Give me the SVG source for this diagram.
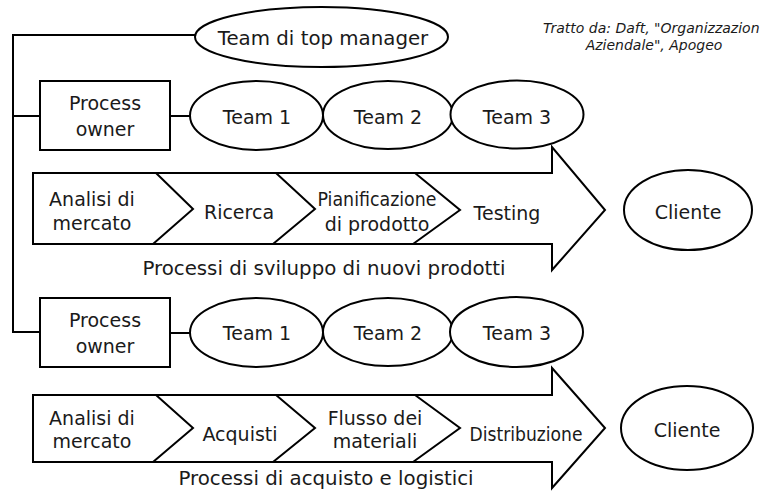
<svg xmlns="http://www.w3.org/2000/svg" width="761" height="492" viewBox="0 0 761 492">
  <style>
    .shape { fill: #ffffff; stroke: #000000; stroke-width: 2; }
    .line { fill: none; stroke: #000000; stroke-width: 2; }
    .chev { fill: none; stroke: #000000; stroke-width: 2; stroke-linejoin: miter; }
    .lbl { font-family: "DejaVu Sans", Verdana, sans-serif; font-size: 19px; fill: #1a1a1a; text-anchor: middle; }
    .big { font-size: 19.8px; }
    .note { font-family: "DejaVu Sans", Verdana, sans-serif; font-size: 14px; font-style: italic; fill: #1a1a1a; }
  </style>
  <rect x="0" y="0" width="761" height="492" fill="#ffffff"/>

  <!-- connectors: vertical spine and horizontal links -->
  <g id="connectors">
    <polyline class="line" points="195,35 13,35 13,332 40,332"/>
    <line class="line" x1="13" y1="116" x2="40" y2="116"/>
    <line class="line" x1="170" y1="116" x2="190" y2="116"/>
    <line class="line" x1="170" y1="333" x2="190" y2="333"/>
  </g>

  <g id="top-manager">
    <ellipse class="shape" cx="321.5" cy="37" rx="126.5" ry="30"/>
    <text class="lbl big" x="323" y="45">Team di top manager</text>
  </g>

  <g id="source-note">
    <text class="note" x="543" y="33">Tratto da: Daft, "Organizzazion</text>
    <text class="note" x="654" y="50" text-anchor="middle">Aziendale", Apogeo</text>
  </g>

  <!-- row 1: new product development -->
  <g id="process-owner-1">
    <rect class="shape" x="40" y="81" width="130" height="69"/>
    <text class="lbl" x="105" y="110">Process</text>
    <text class="lbl" x="105" y="136">owner</text>
  </g>
  <g id="team-1a">
    <ellipse class="shape" cx="256.5" cy="115.5" rx="66.5" ry="34.5"/>
    <text class="lbl" x="257" y="124">Team 1</text>
  </g>
  <g id="team-2a">
    <ellipse class="shape" cx="388" cy="115" rx="65" ry="34"/>
    <text class="lbl" x="388" y="124">Team 2</text>
  </g>
  <g id="team-3a">
    <ellipse class="shape" cx="517" cy="114.5" rx="66.5" ry="34"/>
    <text class="lbl" x="517" y="124">Team 3</text>
  </g>

  <g id="process-arrow-1">
    <polygon class="shape" points="33,173 552,173 552,147 605,210 552,270 552,244 33,244"/>
    <polyline class="chev" points="156,173 193,209 153,244"/>
    <polyline class="chev" points="276,173 315,209 273,244"/>
    <polyline class="chev" points="415,173 460,210 413,244"/>
    <text class="lbl" x="92" y="206">Analisi di</text>
    <text class="lbl" x="92" y="230">mercato</text>
    <text class="lbl" x="239" y="219">Ricerca</text>
    <text class="lbl" x="377" y="206" textLength="119" lengthAdjust="spacingAndGlyphs">Pianificazione</text>
    <text class="lbl" x="377" y="231">di prodotto</text>
    <text class="lbl" x="507" y="220">Testing</text>
  </g>
  <g id="cliente-1">
    <ellipse class="shape" cx="688" cy="210" rx="64" ry="40"/>
    <text class="lbl" x="688" y="219">Cliente</text>
  </g>
  <g id="caption-1">
    <text class="lbl big" x="324" y="275">Processi di sviluppo di nuovi prodotti</text>
  </g>

  <!-- row 2: purchasing and logistics -->
  <g id="process-owner-2">
    <rect class="shape" x="40" y="298" width="130" height="69"/>
    <text class="lbl" x="105" y="327">Process</text>
    <text class="lbl" x="105" y="353">owner</text>
  </g>
  <g id="team-1b">
    <ellipse class="shape" cx="256.5" cy="332.5" rx="66.5" ry="34.5"/>
    <text class="lbl" x="257" y="340">Team 1</text>
  </g>
  <g id="team-2b">
    <ellipse class="shape" cx="388" cy="332" rx="65" ry="34"/>
    <text class="lbl" x="388" y="340">Team 2</text>
  </g>
  <g id="team-3b">
    <ellipse class="shape" cx="516.5" cy="332" rx="66.5" ry="35"/>
    <text class="lbl" x="517" y="340">Team 3</text>
  </g>

  <g id="process-arrow-2">
    <polygon class="shape" points="33,395 552,395 552,368 605,428 552,488 552,462 33,462"/>
    <polyline class="chev" points="156,395 193,428 153,462"/>
    <polyline class="chev" points="276,395 315,428 273,462"/>
    <polyline class="chev" points="415,395 460,428 413,462"/>
    <text class="lbl" x="92" y="425">Analisi di</text>
    <text class="lbl" x="92" y="448">mercato</text>
    <text class="lbl" x="240" y="441">Acquisti</text>
    <text class="lbl" x="375" y="425">Flusso dei</text>
    <text class="lbl" x="375" y="448">materiali</text>
    <text class="lbl" x="526" y="441" textLength="113" lengthAdjust="spacingAndGlyphs">Distribuzione</text>
  </g>
  <g id="cliente-2">
    <ellipse class="shape" cx="687" cy="428" rx="66" ry="42"/>
    <text class="lbl" x="687" y="437">Cliente</text>
  </g>
  <g id="caption-2">
    <text class="lbl big" x="326" y="485">Processi di acquisto e logistici</text>
  </g>
</svg>
